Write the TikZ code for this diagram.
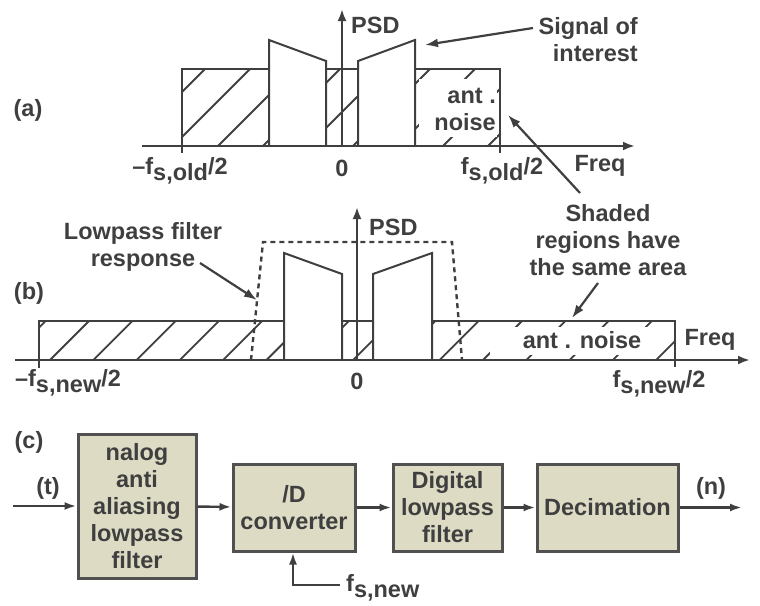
\documentclass[tikz,border=0pt]{standalone}
\usepackage{fontspec}
\setmainfont{Liberation Sans}
\usetikzlibrary{arrows.meta}
\definecolor{ink}{HTML}{3F3F3F}
\definecolor{boxfill}{HTML}{DEDBC5}
\definecolor{boxline}{HTML}{505050}
% sampling-rate symbol with lowered subscript
\newcommand\fsub[1]{f\raisebox{-6pt}{s,#1}}
\begin{document}
\begin{tikzpicture}[x=1pt,y=-1pt,
  every node/.style={text=ink, font=\fontsize{23.5}{27}\selectfont\bfseries, inner sep=0pt},
  outline/.style={draw=ink, line width=2pt, line join=miter},
  axis/.style={draw=ink, line width=2.4pt, -{Latex[length=12pt,width=9pt]}},
  hatchline/.style={draw=ink, line width=1.8pt},
  filterline/.style={draw=ink, line width=2.4pt, dash pattern=on 5pt off 4pt},
  pointer/.style={draw=ink, line width=2.2pt, -{Latex[length=13pt,width=9pt]}},
  flow/.style={draw=ink, line width=2.4pt, -{Latex[length=12pt,width=8pt]}},
  block/.style={draw=boxline, fill=boxfill, line width=3pt, align=center},
]
\useasboundingbox (0,0) rectangle (760,605);

% ---------------- (a) spectrum at the old sampling rate ----------------
\begin{scope}
  \clip (182,69) rectangle (269,146) (326,69) rectangle (358,146) (415,69) rectangle (500,146);
  \foreach \c in {229,274,...,679} \draw[hatchline] (\c-150,150) -- (\c-60,60);
\end{scope}
\fill[white] (419,79) rectangle (497,137);

\draw[outline] (182,153) -- (182,69) -- (269,69);
\draw[outline] (269,146) -- (269,40) -- (326,61) -- (326,146);
\draw[outline] (326,69) -- (358,69);
\draw[outline] (358,146) -- (358,61) -- (415,40) -- (415,146);
\draw[outline] (415,69) -- (500,69) -- (500,153);
\draw[axis] (142,146) -- (635,146);
\draw[axis] (342,146) -- (342,9);

\node (la) at (28,110) {(a)};
\node[anchor=west] (psda) at (351,25) {PSD};
\node[anchor=east, align=right] (sig) at (638,40) {Signal of\\interest};
\node (mfa) at (180,171) {–\fsub{old}/2};
\node (za) at (342,168) {0};
\node (pfa) at (502,171) {\fsub{old}/2};
\node (fqa) at (600,166) {Freq};
\node[anchor=east, align=right] (noisea) at (496,109) {ant .\\noise};

\coordinate (sigtail) at (533,28);
\coordinate (sigtip) at (425,45);
\draw[pointer] (sigtail) -- (sigtip);

% ---------------- (b) spectrum at the new sampling rate ----------------
\begin{scope}
  \clip (39,321) rectangle (284,360) (342,321) rectangle (373,360) (432,321) rectangle (675,360);
  \foreach \k in {-1,...,15} \draw[hatchline] ({410+43.3*\k-370},370) -- ({410+43.3*\k-310},310);
\end{scope}
\fill[white] (490,327) rectangle (650,355);

\draw[outline] (39,368) -- (39,321) -- (284,321);
\draw[outline] (284,360) -- (284,253) -- (342,274) -- (342,360);
\draw[outline] (342,321) -- (373,321);
\draw[outline] (373,360) -- (373,274) -- (432,253) -- (432,360);
\draw[outline] (432,321) -- (675,321) -- (675,367);
\draw[filterline] (251,360) -- (263,242) -- (452,242) -- (462,360);
\draw[axis] (15,360) -- (750,360);
\draw[axis] (357,360) -- (357,207);

\node (lb) at (29,293) {(b)};
\node[anchor=west] (psdb) at (369,227) {PSD};
\node[align=center] (lpf) at (143,247) {Lowpass filter\\response};
\node[align=center] (shaded) at (608,240) {Shaded\\regions have\\the same area};
\node (noiseb) at (582,340) {ant . noise};
\node (fqb) at (710,340) {Freq};
\node (mfb) at (68,383) {–\fsub{new}/2};
\node (zb) at (357,381) {0};
\node (pfb) at (659,384) {\fsub{new}/2};

\coordinate (lpftail) at (200,263);
\coordinate (lpftip) at (257,300);
\draw[pointer] (lpftail) -- (lpftip);
\coordinate (shbtail) at (598,283);
\coordinate (shbtip) at (572,318);
\draw[pointer] (shbtail) -- (shbtip);
\coordinate (shatail) at (580,193);
\coordinate (shatip) at (508,115);
\draw[pointer] (shatail) -- (shatip);

% ---------------- (c) processing chain ----------------
\node (lc) at (29,442) {(c)};
\node[block, minimum width=118pt, minimum height=144pt] (aaf) at (137,506)
  {nalog\\anti\\aliasing\\lowpass\\filter};
\node[block, minimum width=122pt, minimum height=87pt] (adc) at (294,507.5)
  {/D\\converter};
\node[block, minimum width=109pt, minimum height=87pt] (dlp) at (447.5,507.5)
  {Digital\\lowpass\\filter};
\node[block, minimum width=141pt, minimum height=87pt] (dec) at (607.5,507.5)
  {Decimation};

\coordinate (xin) at (13,506);
\coordinate (xout) at (742,507.5);
\coordinate (clk) at (340,585);
\draw[flow] (xin) -- (aaf);
\draw[flow] (aaf) -- (adc);
\draw[flow] (adc) -- (dlp);
\draw[flow] (dlp) -- (dec);
\draw[flow] (dec) -- (xout);
\draw[flow] (clk) -- (293,585) -- (adc.south -| 293,0);

\node (tin) at (48,488) {(t)};
\node (nout) at (711,488) {(n)};
\node[anchor=west] (fsn) at (346,588) {\fsub{new}};
\end{tikzpicture}
\end{document}
